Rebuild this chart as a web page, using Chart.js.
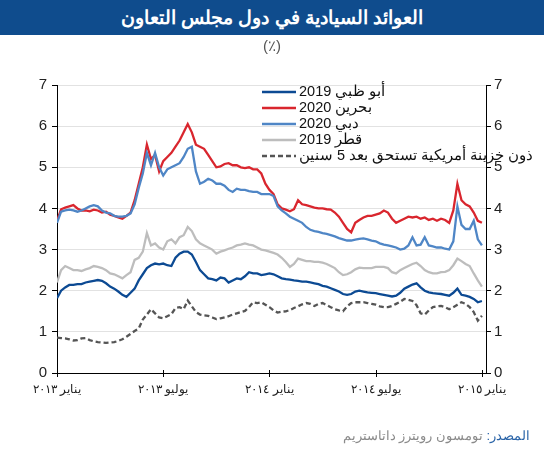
<!DOCTYPE html>
<html><head><meta charset="utf-8">
<script src="https://cdn.jsdelivr.net/npm/chart.js@4.4.1/dist/chart.umd.min.js"></script>
<style>
body{margin:0;width:544px;height:450px;overflow:hidden;background:#fff;font-family:Arial,"Liberation Sans",sans-serif;}
#wrap{position:absolute;left:0;top:0;width:544px;height:450px;}
#title{position:absolute;left:0;top:0;width:544px;height:35px;background:#0f4c8d;color:#fff;font-weight:bold;font-size:19px;text-align:center;line-height:35px;z-index:2;}
#unit{position:absolute;left:0;top:37px;width:544px;text-align:center;font-size:15px;color:#555;z-index:2;}
#src{position:absolute;right:14px;top:428px;font-size:13px;color:#8a8a8a;direction:rtl;z-index:2;}
#src span{color:#2a64a8;}
</style></head>
<body>
<div id="title">العوائد السيادية في دول مجلس التعاون</div>
<div id="unit">(٪)</div>
<div id="wrap"><canvas id="c" width="544" height="450"></canvas></div>
<div id="src"><span>المصدر:</span> تومسون رويترز داتاستريم</div>
<script>
// weekly readings, week 0 = start of January 2013
const seriesNames = ['أبو ظبي 2019','بحرين 2020','دبي 2020','قطر 2019','ذون خزينة أمريكية تستحق بعد 5 سنين'];
const tickWeeks = [0, 26, 52, 78, 104];
const tickLabels = ['يناير ٢٠١٣','يوليو ٢٠١٣','يناير ٢٠١٤','يوليو ٢٠١٤','يناير ٢٠١٥'];
const yTicks = [0,1,2,3,4,5,6,7];

const abuDhabi = [1.82,2.0,2.08,2.14,2.14,2.16,2.16,2.2,2.22,2.24,
2.26,2.24,2.18,2.1,2.05,1.98,1.9,1.85,1.95,2.05,
2.25,2.4,2.55,2.62,2.66,2.64,2.66,2.62,2.6,2.8,
2.9,2.95,2.95,2.88,2.7,2.5,2.4,2.3,2.28,2.25,
2.32,2.3,2.2,2.25,2.3,2.28,2.35,2.45,2.42,2.42,
2.38,2.4,2.42,2.4,2.35,2.3,2.28,2.27,2.25,2.24,
2.22,2.22,2.2,2.18,2.16,2.12,2.1,2.06,2.02,1.98,
1.92,1.9,1.92,1.98,2.0,1.98,1.96,1.95,1.94,1.92,
1.9,1.88,1.86,1.88,1.95,2.05,2.1,2.15,2.18,2.08,
2.0,1.96,1.94,1.93,1.92,1.9,1.88,1.95,2.05,1.9,
1.88,1.85,1.8,1.72,1.75];

const bahrain = [3.7,3.98,4.02,4.05,4.08,4.0,3.95,3.95,3.93,3.97,
3.95,3.9,3.92,3.85,3.82,3.78,3.75,3.82,3.9,4.2,
4.6,5.0,5.55,5.2,5.3,4.9,5.15,5.25,5.35,5.5,
5.65,5.85,6.05,5.85,5.55,5.5,5.45,5.3,5.15,5.0,
5.02,5.08,5.1,5.05,5.05,5.0,4.98,5.0,4.95,4.95,
4.85,4.6,4.45,4.35,4.1,4.0,3.97,3.93,3.98,4.2,
4.1,4.08,4.05,4.02,4.0,4.0,3.98,3.97,3.9,3.8,
3.65,3.5,3.42,3.65,3.72,3.78,3.82,3.82,3.85,3.88,
3.95,3.9,3.75,3.65,3.7,3.75,3.8,3.78,3.8,3.75,
3.78,3.72,3.75,3.7,3.75,3.72,3.65,3.95,4.6,4.2,
4.1,4.05,3.9,3.7,3.65];

const dubai = [3.65,3.92,3.95,3.97,3.95,3.92,3.95,4.0,4.05,4.08,
4.05,3.95,3.9,3.88,3.82,3.8,3.8,3.82,3.88,4.1,
4.5,4.85,5.35,5.05,5.35,5.0,4.8,4.95,5.0,5.05,
5.1,5.25,5.45,5.5,4.9,4.6,4.65,4.72,4.68,4.6,
4.6,4.55,4.45,4.4,4.48,4.45,4.45,4.42,4.4,4.4,
4.35,4.35,4.35,4.3,4.05,3.95,3.88,3.8,3.75,3.7,
3.65,3.55,3.48,3.45,3.43,3.4,3.38,3.35,3.32,3.28,
3.25,3.22,3.22,3.24,3.26,3.27,3.25,3.22,3.2,3.15,
3.12,3.1,3.08,3.05,3.0,3.02,3.1,3.3,3.1,3.12,
3.3,3.1,3.08,3.05,3.05,3.02,3.0,3.2,4.05,3.6,
3.5,3.5,3.7,3.25,3.1];

const qatar = [2.2,2.5,2.6,2.55,2.5,2.5,2.48,2.52,2.55,2.6,
2.58,2.55,2.5,2.42,2.4,2.35,2.3,2.38,2.45,2.75,
2.8,2.95,3.4,3.1,3.15,3.05,3.0,3.2,3.25,3.15,
3.3,3.35,3.55,3.45,3.25,3.15,3.1,3.05,3.0,2.9,
2.95,2.98,3.02,3.05,3.1,3.12,3.15,3.12,3.1,3.05,
3.0,2.98,2.95,2.92,2.88,2.8,2.7,2.58,2.65,2.78,
2.75,2.72,2.72,2.7,2.7,2.68,2.65,2.6,2.55,2.45,
2.38,2.4,2.45,2.52,2.56,2.55,2.55,2.55,2.58,2.58,
2.58,2.55,2.45,2.42,2.5,2.55,2.6,2.65,2.68,2.6,
2.5,2.45,2.42,2.42,2.45,2.46,2.5,2.62,2.78,2.72,
2.65,2.6,2.42,2.25,2.1];

const ust5y = [0.86,0.85,0.84,0.82,0.79,0.8,0.84,0.85,0.8,0.77,
0.75,0.74,0.73,0.74,0.75,0.78,0.82,0.88,0.95,1.02,
1.08,1.3,1.42,1.55,1.45,1.35,1.33,1.38,1.43,1.58,
1.6,1.55,1.76,1.62,1.48,1.42,1.4,1.39,1.35,1.31,
1.33,1.35,1.38,1.42,1.45,1.48,1.51,1.6,1.72,1.7,
1.72,1.66,1.6,1.52,1.47,1.49,1.5,1.53,1.58,1.62,
1.67,1.7,1.68,1.63,1.68,1.7,1.65,1.6,1.55,1.52,
1.5,1.62,1.7,1.72,1.72,1.72,1.7,1.68,1.66,1.62,
1.6,1.6,1.63,1.68,1.73,1.8,1.78,1.75,1.65,1.45,
1.42,1.52,1.6,1.62,1.63,1.6,1.55,1.6,1.66,1.72,
1.68,1.6,1.48,1.27,1.39];

const colors = ['#0c4a93','#d9262e','#4f86c6','#bdbdbd','#555555'];
const allSeries = [abuDhabi, bahrain, dubai, qatar, ust5y];
const drawOrder = [2, 1, 0, 3, 4];
const toXY = arr => arr.map((v, i) => ({x: i, y: v}));

const datasets = allSeries.map((arr, k) => ({
  label: seriesNames[k],
  data: toXY(arr),
  borderColor: colors[k],
  borderWidth: 2.3,
  borderDash: k === 4 ? [5, 3] : [],
  pointRadius: 0,
  tension: 0,
  fill: false,
  order: drawOrder[k]
}));

const legendPlugin = {
  id: 'inlegend',
  afterDraw(chart) {
    const ctx = chart.ctx;
    ctx.save();
    const x0 = 262, x1 = 296, tx = 299;
    const ys = [92, 108, 124, 140, 156];
    seriesNames.forEach((name, k) => {
      ctx.beginPath();
      ctx.strokeStyle = colors[k];
      ctx.lineWidth = 2.6;
      ctx.setLineDash(k === 4 ? [5, 3] : []);
      ctx.moveTo(x0, ys[k]); ctx.lineTo(x1, ys[k]);
      ctx.stroke();
      ctx.setLineDash([]);
      ctx.fillStyle = '#111';
      ctx.font = '14.5px Arial, "Liberation Sans"';
      ctx.textBaseline = 'middle';
      ctx.direction = 'rtl';
      ctx.textAlign = 'left';
      ctx.fillText(name, tx, ys[k]);
    });
    // tick marks crossing the time axis
    const xs = chart.scales.x, y0 = chart.chartArea.bottom;
    ctx.strokeStyle = '#000'; ctx.lineWidth = 1;
    tickWeeks.forEach(w => {
      const px = Math.round(xs.getPixelForValue(w)) + 0.5;
      ctx.beginPath(); ctx.moveTo(px, y0 - 3); ctx.lineTo(px, y0 + 4); ctx.stroke();
    });
    ctx.restore();
  }
};

new Chart(document.getElementById('c'), {
  type: 'line',
  data: { datasets },
  options: {
    responsive: false,
    devicePixelRatio: 1,
    animation: false,
    events: [],
    layout: { padding: { top: 85, bottom: 47, left: 0, right: 0 } },
    plugins: { legend: { display: false }, tooltip: { enabled: false } },
    scales: {
      x: {
        type: 'linear', min: 0, max: 105,
        afterBuildTicks: s => { s.ticks = tickWeeks.map(v => ({value: v})); },
        afterFit: s => { s.height = 30; },
        grid: { display: true, drawOnChartArea: false, drawTicks: false, color: '#000' },
        border: { color: '#000', width: 1 },
        ticks: {
          autoSkip: false, maxRotation: 0, padding: 9,
          color: '#222', font: { size: 12, family: 'Arial, "Liberation Sans"' },
          callback: v => tickLabels[tickWeeks.indexOf(v)]
        }
      },
      y: {
        position: 'left', min: 0, max: 7,
        afterBuildTicks: s => { s.ticks = yTicks.map(v => ({value: v})); },
        afterFit: s => { s.width = 57; },
        grid: { color: c => c.tick.value === 0 ? 'rgba(0,0,0,0)' : '#e2e2e2', tickColor: '#000', tickLength: 5, lineWidth: 1 },
        border: { color: '#000', width: 1 },
        ticks: { padding: 5, color: '#222', font: { size: 15, family: 'Arial, "Liberation Sans"' } }
      },
      y2: {
        position: 'right', min: 0, max: 7,
        afterBuildTicks: s => { s.ticks = yTicks.map(v => ({value: v})); },
        afterFit: s => { s.width = 58; },
        grid: { drawOnChartArea: false, tickColor: '#000', tickLength: 5 },
        border: { color: '#000', width: 1 },
        ticks: { padding: 3, color: '#222', font: { size: 15, family: 'Arial, "Liberation Sans"' } }
      }
    }
  },
  plugins: [legendPlugin]
});
</script>
</body></html>
